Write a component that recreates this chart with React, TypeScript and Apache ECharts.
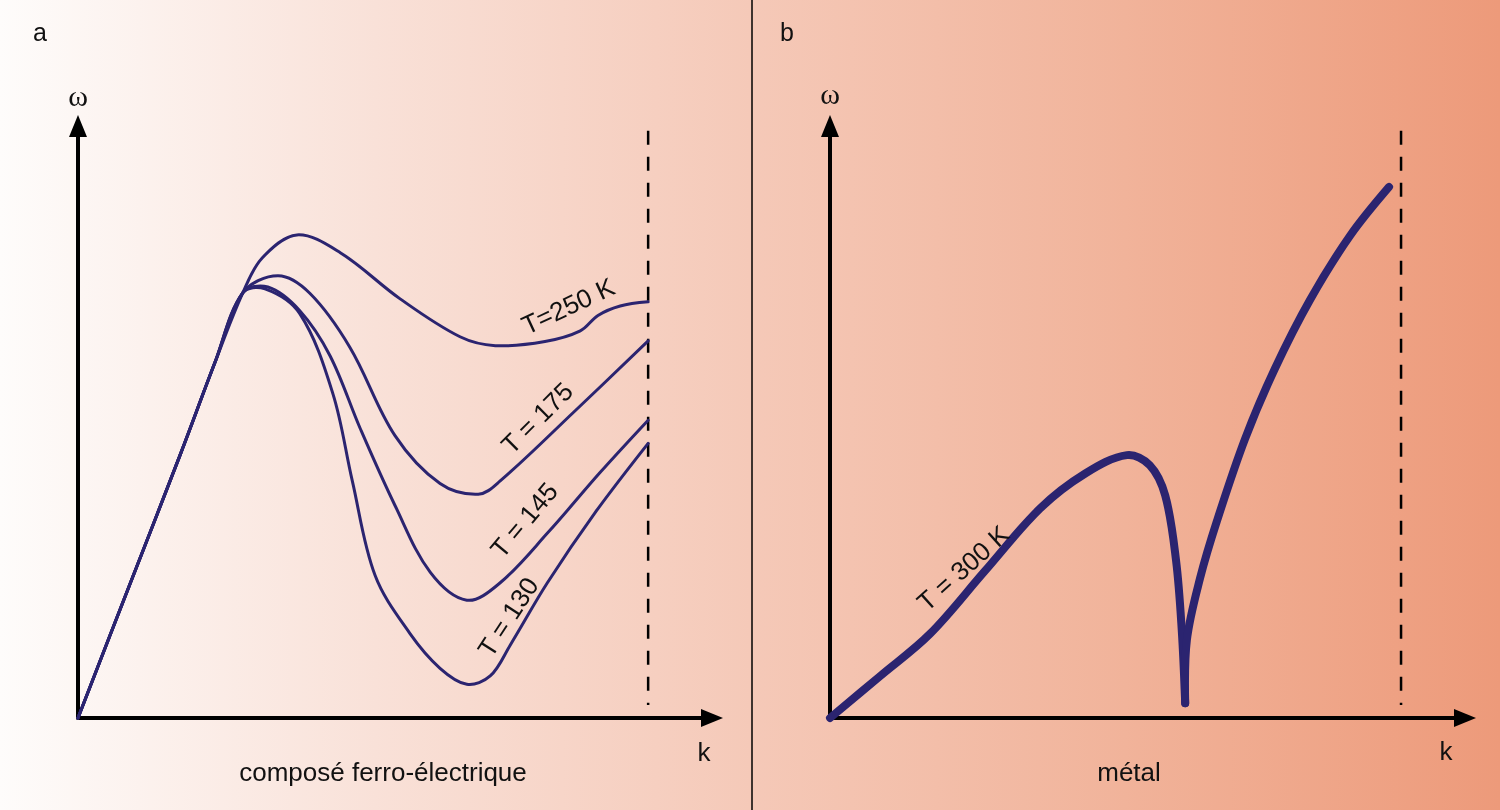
import { useEffect, useRef } from "react";
import * as echarts from "echarts";

// k in units where 100 = zone boundary (dashed line); omega in arbitrary units (0..100 = axis length)
const riseCommon = [[0, 0], [9.1, 22.6], [17.9, 44.4], [24.0, 60.0], [28.9, 71.8]];
const branchT250 = [[32.3, 77.7], [38.4, 81.6], [46.0, 78.6], [56.5, 70.8], [67.0, 64.4], [73.2, 62.9], [81.9, 63.6], [88.1, 65.4], [91.2, 68.0], [95.1, 69.6], [100, 70.3]];
const branchT175 = [[35.1, 74.7], [40.7, 71.7], [47.7, 62.6], [55.6, 47.7], [63.5, 39.6], [70.2, 37.8], [74.0, 40.0], [87.2, 51.9], [100, 63.7]];
const branchT145 = [[33.3, 72.8], [38.9, 68.8], [44.2, 61.2], [49.5, 48.9], [55.6, 35.9], [61.8, 24.6], [68.2, 19.9], [74.0, 22.8], [82.5, 31.4], [91.6, 41.5], [100, 50.3]];
const branchT130 = [[32.8, 72.5], [38.9, 68.3], [44.7, 54.8], [48.1, 40.1], [52.1, 24.1], [58.2, 14.3], [63.5, 8.4], [68.2, 5.7], [72.3, 7.1], [75.8, 12.3], [82.3, 22.8], [90.7, 34.7], [100, 46.4]];

const metalDown = [[0, 0], [8.8, 7.1], [17.5, 14.2], [27.1, 24.8], [36.8, 35.4], [44.7, 41.3], [52.0, 44.4], [56.0, 42.7], [58.7, 37.6], [60.6, 26.6], [61.6, 14.8], [62.2, 2.5]];
const metalUp = [[62.2, 2.5], [62.5, 13.2], [64.8, 23.6], [67.8, 33.4], [72.7, 47.2], [77.9, 59.0], [84.1, 70.7], [91.1, 81.5], [97.9, 89.7]];

const boundaryK = 100;
const boundarySpan = [2.2, 99.2];

const curveLabels = ["T=250 K", "T = 175", "T = 145", "T = 130"];
const metalLabel = "T = 300 K";
const panelTitles = ["a", "b"];
const panelCaptions = ["composé ferro-électrique", "métal"];
const axisNames = ["ω", "k"];

const LINE = "#2b2470";
const FONT = "'Liberation Sans', Arial, sans-serif";

export default function App() {
  const ref = useRef<HTMLDivElement>(null);
  useEffect(() => {
    if (!ref.current) return;
    const chart = echarts.init(ref.current, null, { renderer: "svg" });

    const axisLine = {
      show: true,
      onZero: false,
      symbol: ["none", "triangle"],
      symbolSize: [18, 22],
      lineStyle: { color: "#000", width: 4 },
    };
    const mkX = (gi: number) => ({
      type: "value", gridIndex: gi, min: 0, max: 111.2,
      axisLine, axisTick: { show: false }, axisLabel: { show: false }, splitLine: { show: false },
    });
    const mkY = (gi: number) => ({
      type: "value", gridIndex: gi, min: 0, max: 100,
      axisLine, axisTick: { show: false }, axisLabel: { show: false }, splitLine: { show: false },
    });

    // Smooth curve drawn through data points mapped by the axes (api.coord)
    const curve = (gi: number, data: number[][], width: number, smooth: number, dash?: number[], color = LINE) => ({
      type: "custom",
      coordinateSystem: "cartesian2d",
      xAxisIndex: gi,
      yAxisIndex: gi,
      silent: true,
      clip: false,
      encode: { x: 0, y: 1 },
      data,
      renderItem: (params: any, api: any) => {
        if (params.dataIndex !== 0) return null;
        const points = data.map((p) => api.coord(p));
        return {
          type: "polyline",
          shape: { points, smooth },
          style: {
            stroke: color, lineWidth: width, fill: "none", lineCap: dash ? "butt" : "round", lineJoin: "round",
            ...(dash ? { lineDash: dash } : {}),
          },
        };
      },
    });

    const boundary = [[boundaryK, boundarySpan[1]], [boundaryK, boundarySpan[0]]];
    const SM = 0.35;

    const textStyle = (size: number, family = FONT) => ({ fill: "#111", font: `${size}px ${family}` });
    const rotText = (text: string, x: number, y: number, deg: number, size = 26) => ({
      type: "text", x, y, rotation: (deg * Math.PI) / 180, z: 10,
      style: { text, ...textStyle(size), align: "center", verticalAlign: "middle" },
    });
    const plainText = (text: string, x: number, y: number, size: number, family = FONT) => ({
      type: "text", x, y, style: { text, ...textStyle(size, family), align: "center", verticalAlign: "middle" },
    });

    chart.setOption({
      animation: false,
      grid: [
        { left: 78, top: 126, width: 634, height: 592 },
        { left: 830, top: 126, width: 635, height: 592 },
      ],
      xAxis: [mkX(0), mkX(1)],
      yAxis: [mkY(0), mkY(1)],
      series: [
        curve(0, boundary, 2.5, 0, [14, 12], "#000"),
        curve(1, boundary, 2.5, 0, [14, 12], "#000"),
        curve(0, riseCommon.concat(branchT250), 3, SM),
        curve(0, riseCommon.concat(branchT175), 3, SM),
        curve(0, riseCommon.concat(branchT145), 3, SM),
        curve(0, riseCommon.concat(branchT130), 3, SM),
        curve(1, metalDown, 8, SM),
        curve(1, metalUp, 8, SM),
      ],
      graphic: [
        {
          type: "rect", z: -100, silent: true, shape: { x: 0, y: 0, width: 1500, height: 810 },
          style: {
            fill: new echarts.graphic.LinearGradient(0, 0, 1, 0, [
              { offset: 0, color: "#fefcfb" },
              { offset: 0.25, color: "#f9e1d8" },
              { offset: 0.5, color: "#f5c9b8" },
              { offset: 0.75, color: "#f1b39a" },
              { offset: 1, color: "#ed9a7a" },
            ]),
          },
        },
        { type: "line", z: 5, silent: true, shape: { x1: 752, y1: 0, x2: 752, y2: 810 }, style: { stroke: "#000", lineWidth: 1.5 } },
        plainText(panelTitles[0], 40, 32, 25),
        plainText(panelTitles[1], 787, 32, 25),
        plainText(axisNames[0], 78, 95, 30, "'Liberation Serif', serif"),
        plainText(axisNames[0], 830, 93, 30, "'Liberation Serif', serif"),
        plainText(axisNames[1], 704, 752, 26),
        plainText(axisNames[1], 1446, 751, 26),
        plainText(panelCaptions[0], 383, 772, 26),
        plainText(panelCaptions[1], 1129, 772, 26),
        rotText(curveLabels[0], 568, 306, 25),
        rotText(curveLabels[1], 537, 418, 45),
        rotText(curveLabels[2], 524, 520, 50),
        rotText(curveLabels[3], 508, 617, 57),
        rotText(metalLabel, 963, 568, 42),
      ],
    });
    return () => chart.dispose();
  }, []);
  return <div ref={ref} style={{ position: "fixed", left: 0, top: 0, width: 1500, height: 810 }} />;
}
